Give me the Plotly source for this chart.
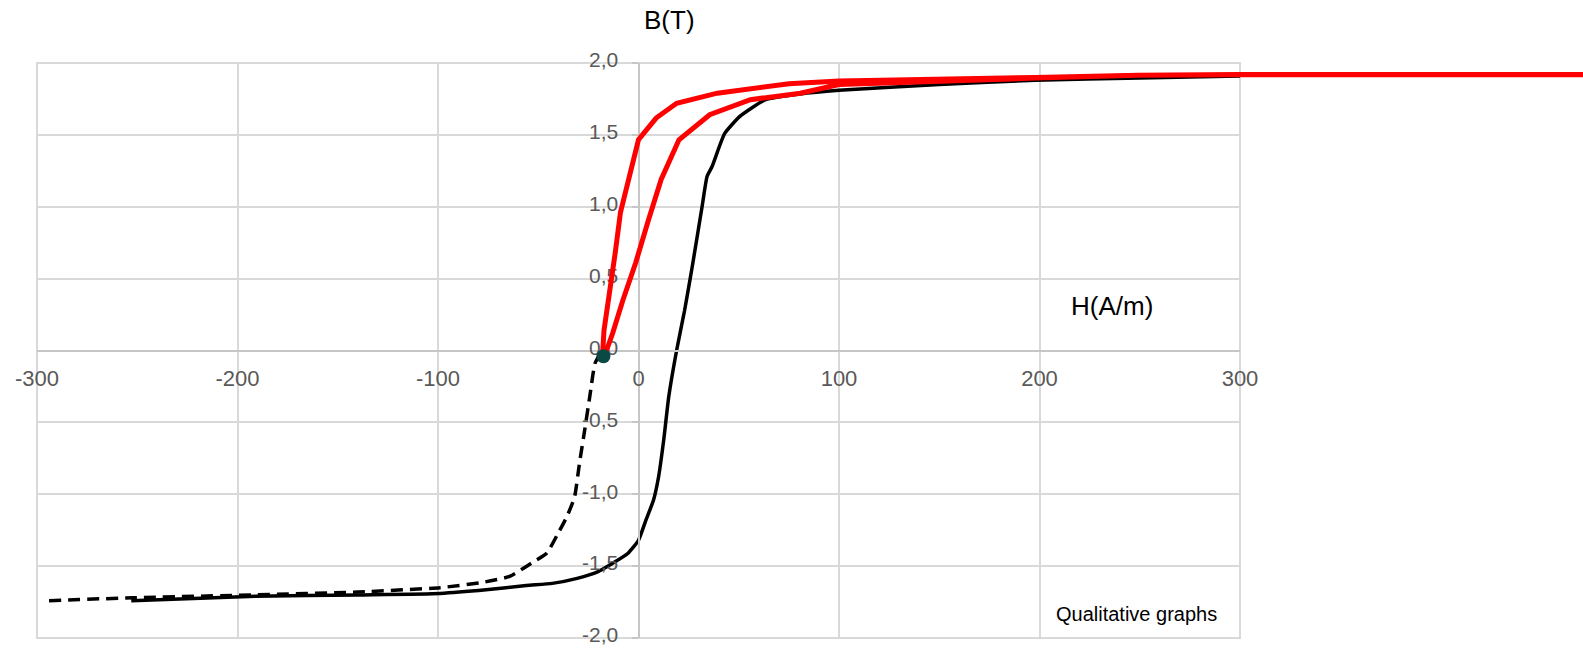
import plotly.graph_objects as go

# ---------------- data ----------------
solid_H = [-253, -191, -140, -99, -76, -56, -43, -30.6, -20.4, -12.9, -5.2, 0, 3.7, 7.5,
           10, 12.6, 15.1, 19, 23, 27, 31.7, 34.2, 36.7, 43, 50.7, 63.4, 80.7,
           100, 150, 198, 250, 300]
solid_B = [-1.74, -1.71, -1.70, -1.69, -1.665, -1.635, -1.62, -1.585, -1.54, -1.48, -1.41,
           -1.32, -1.18, -1.04, -0.88, -0.62, -0.32, 0.0, 0.28, 0.6, 1.0, 1.21, 1.28,
           1.51, 1.63, 1.745, 1.785, 1.81, 1.85, 1.88, 1.895, 1.91]

dashed_H = [-294, -252, -191, -140, -99, -76.5, -64, -53.5, -45.8, -40.8, -35.7, -31.9,
            -29.4, -26.8, -24.3, -21.7, -19]
dashed_B = [-1.74, -1.72, -1.70, -1.68, -1.65, -1.61, -1.57, -1.48, -1.41, -1.29, -1.155,
            -1.02, -0.78, -0.55, -0.32, -0.09, -0.02]

red_H = [-17, -12.9, -7.8, -1.4, 5, 11.3, 20.2, 35.5, 55.8, 80.7, 100, 150, 198, 249, 300, 480,
         480, 300, 249, 198, 150, 100, 75, 39.3, 19, 8.8, 0, -6.5, -9, -11.6, -14.1, -17.2, -18]
red_B = [-0.04, 0.12, 0.35, 0.61, 0.91, 1.19, 1.466, 1.64, 1.745, 1.79, 1.85, 1.875, 1.895,
         1.915, 1.918, 1.918,
         1.92, 1.92, 1.915, 1.9, 1.888, 1.875, 1.855, 1.79, 1.72, 1.617, 1.466, 1.095, 0.96,
         0.68, 0.42, 0.14, -0.04]

dot_H = [-17.5]
dot_B = [-0.04]

x_ticks = [-300, -200, -100, 0, 100, 200, 300]
x_labels = ["-300", "-200", "-100", "0", "100", "200", "300"]
y_ticks = [-2.0, -1.5, -1.0, -0.5, 0.0, 0.5, 1.0, 1.5, 2.0]
y_labels = ["-2,0", "-1,5", "-1,0", "-0,5", "0,0", "0,5", "1,0", "1,5", "2,0"]

# ---------------- layout geometry ----------------
W, Hh = 1583, 648
mL, mR, mT, mB = 37, 0, 63, 10
plot_w = W - mL - mR
plot_h = Hh - mT - mB
ppu = (1240 - 37) / 600.0          # pixels per H unit
xdom_end = 600 * ppu / plot_w
x2_end = -300 + plot_w / ppu
y_pos = 300 * ppu / plot_w

FONT = "Liberation Sans, Arial, sans-serif"
GRID = "#d9d9d9"
AXL = "#c6c6c6"
TICKC = "#595959"

fig = go.Figure()

fig.add_trace(go.Scatter(x=solid_H, y=solid_B, mode="lines", xaxis="x", yaxis="y",
                         line=dict(color="black", width=3.5, shape="spline", smoothing=0.5),
                         showlegend=False, hoverinfo="skip"))
fig.add_trace(go.Scatter(x=dashed_H, y=dashed_B, mode="lines", xaxis="x", yaxis="y",
                         line=dict(color="black", width=3.5, dash="12px,7px",
                                   shape="spline", smoothing=0.5),
                         showlegend=False, hoverinfo="skip"))
fig.add_trace(go.Scatter(x=red_H, y=red_B, mode="lines", xaxis="x2", yaxis="y2",
                         line=dict(color="#ff0000", width=5), showlegend=False,
                         hoverinfo="skip"))
fig.add_trace(go.Scatter(x=dot_H, y=dot_B, mode="markers", xaxis="x2", yaxis="y2",
                         marker=dict(color="#0b4a44", size=14), showlegend=False,
                         hoverinfo="skip", cliponaxis=False))

fig.update_layout(
    template="none",
    width=W, height=Hh,
    margin=dict(l=mL, r=mR, t=mT, b=mB, pad=0, autoexpand=False),
    paper_bgcolor="white", plot_bgcolor="rgba(0,0,0,0)",
    font=dict(family=FONT, size=22, color=TICKC),
    xaxis=dict(domain=[0, xdom_end], range=[-300, 300], anchor="free", position=0.5,
               tickvals=x_ticks, ticktext=x_labels,
               showgrid=True, gridcolor=GRID, gridwidth=2, zeroline=False,
               showline=True, linecolor=AXL, linewidth=2, ticks="",
               ticklabelstandoff=8, automargin=False, ticklabeloverflow="allow",
               tickfont=dict(family=FONT, size=22, color=TICKC), fixedrange=True),
    yaxis=dict(domain=[0, 1], range=[-2, 2], anchor="free", position=y_pos,
               tickvals=y_ticks, ticktext=y_labels,
               showgrid=True, gridcolor=GRID, gridwidth=2, zeroline=False,
               showline=True, linecolor=AXL, linewidth=2, ticks="outside",
               ticklen=6, tickwidth=2, tickcolor=AXL, ticklabelstandoff=9,
               ticklabelshift=-3,
               automargin=False, ticklabeloverflow="allow",
               tickfont=dict(family=FONT, size=21, color=TICKC), fixedrange=True),
    xaxis2=dict(domain=[0, 1], range=[-300, x2_end], anchor="y2", visible=False,
                showgrid=False, zeroline=False, fixedrange=True, automargin=False),
    yaxis2=dict(domain=[0, 1], range=[-2, 2], anchor="x2", visible=False,
                showgrid=False, zeroline=False, fixedrange=True, automargin=False),
)

# plot-area frame (Excel-style outer gridlines)
fig.add_shape(type="rect", xref="x domain", yref="y domain", x0=0, x1=1, y0=0, y1=1,
              line=dict(color=GRID, width=2), layer="below")

def px2paper(px, py):
    return (px - mL) / plot_w, (Hh - mB - py) / plot_h

for text, (cx, cy), size in [("B(T)", (669, 20), 26),
                             ("H(A/m)", (1112, 306), 26),
                             ("Qualitative graphs", (1136, 614), 20)]:
    ax_, ay_ = px2paper(cx, cy)
    fig.add_annotation(x=ax_, y=ay_, xref="paper", yref="paper", text=text,
                       showarrow=False, xanchor="center", yanchor="middle",
                       font=dict(family=FONT, size=size, color="black"))

fig.write_html("out.html", config={"displayModeBar": False},
               post_script="document.body.style.margin='0';document.body.style.overflow='hidden';")
